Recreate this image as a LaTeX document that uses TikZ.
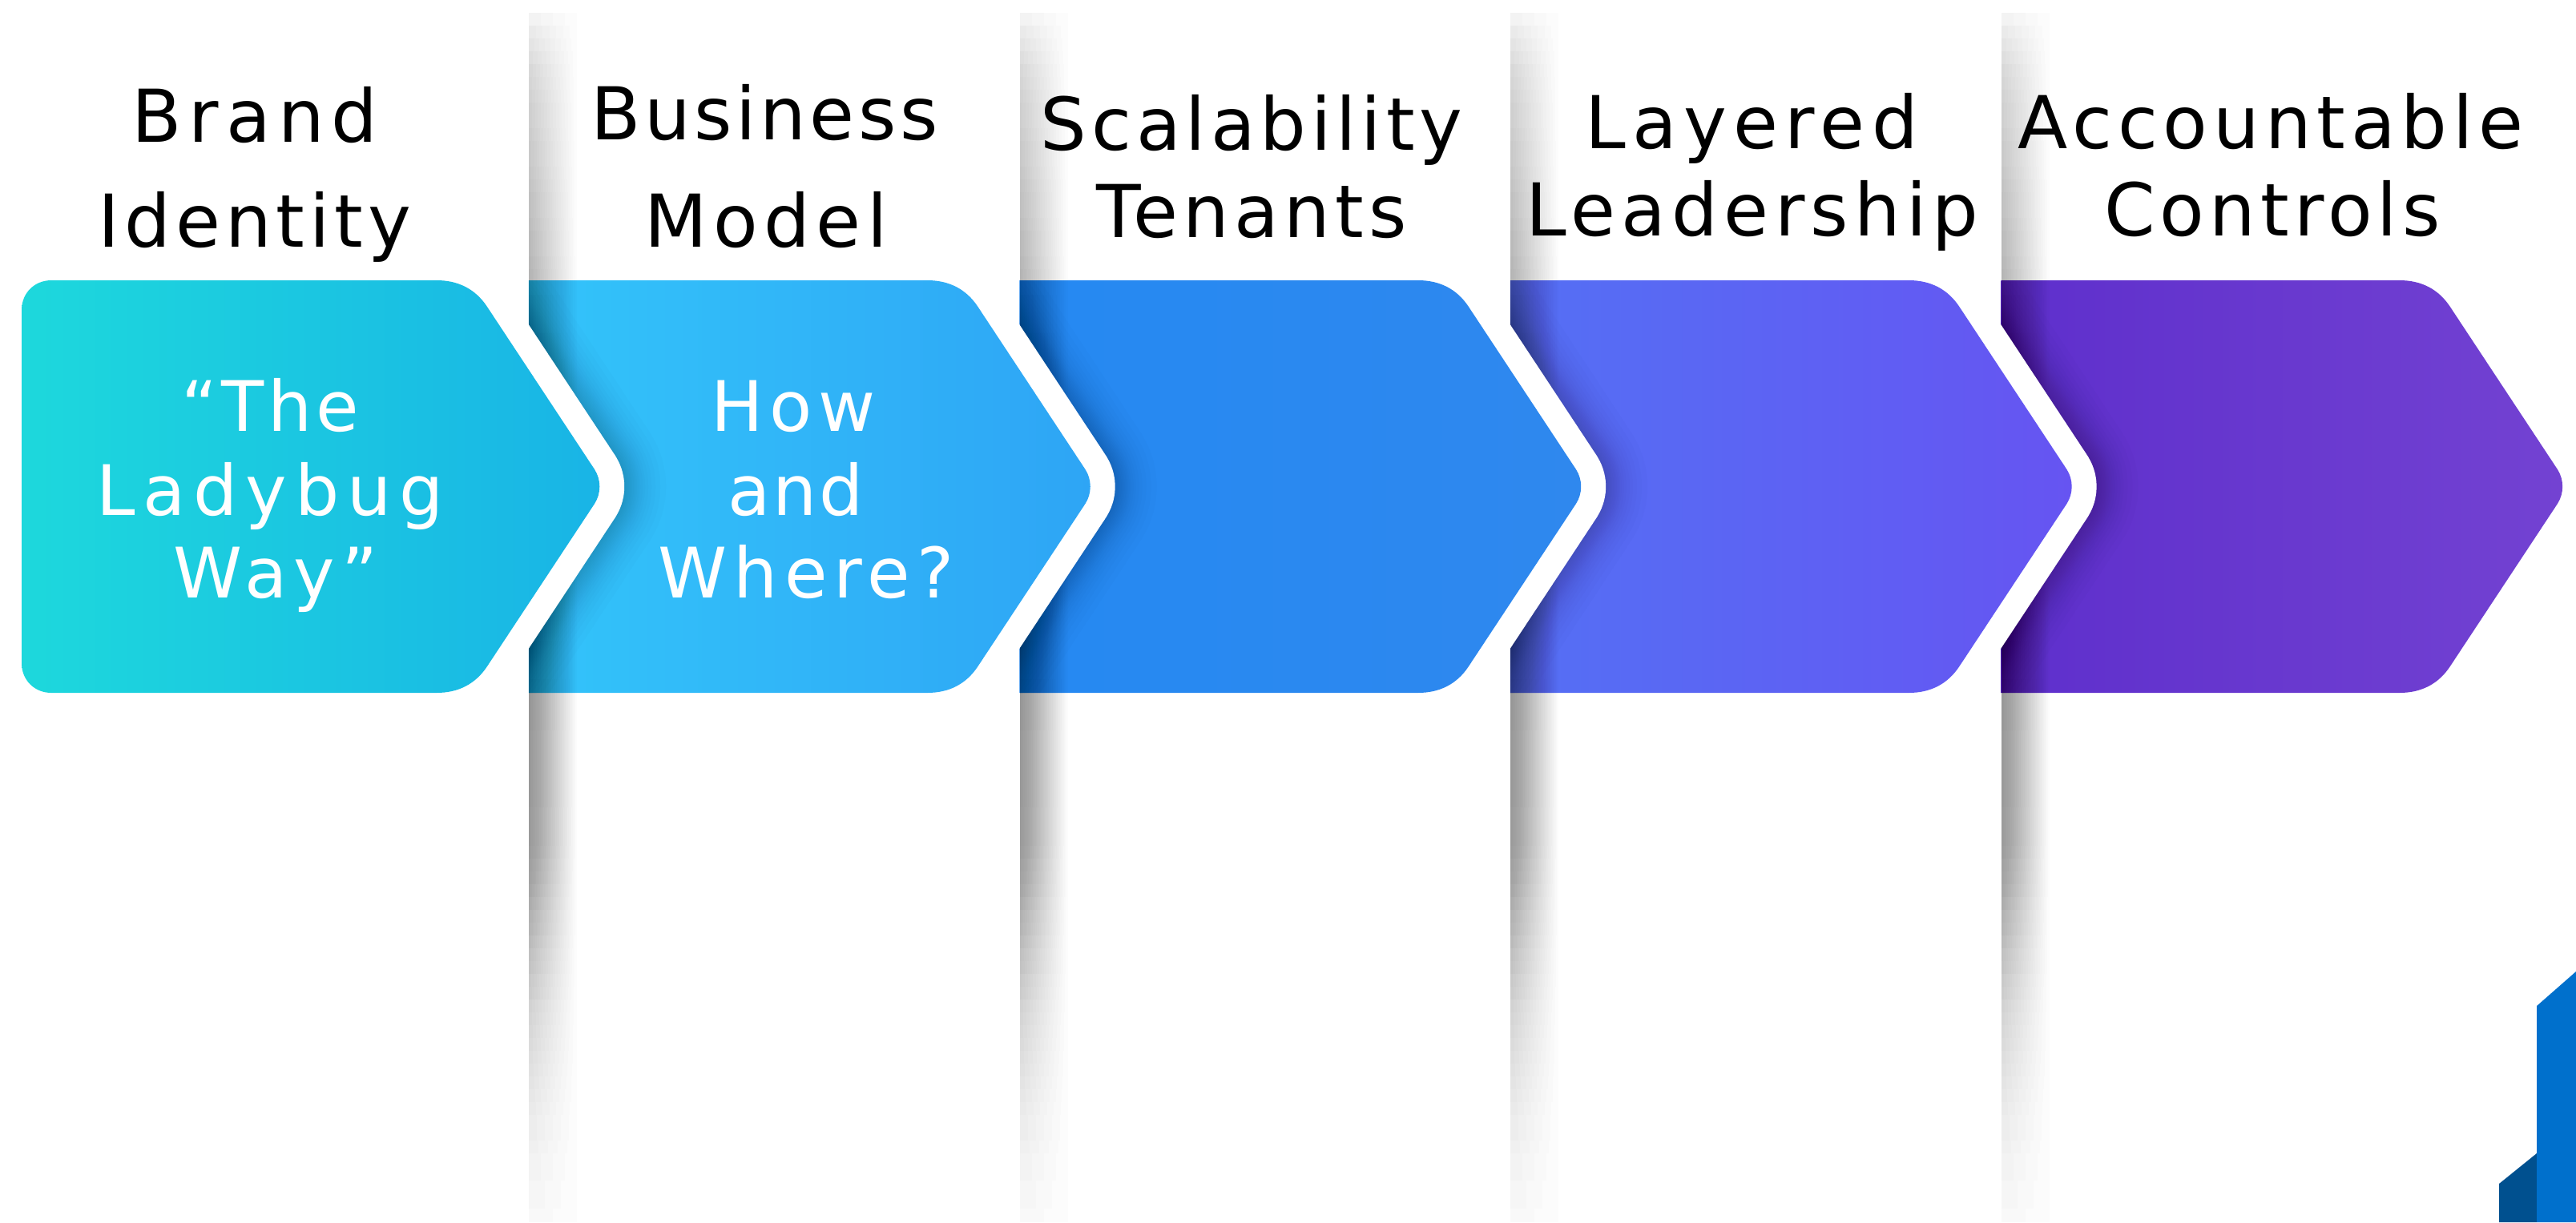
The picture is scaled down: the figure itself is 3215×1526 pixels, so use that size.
\documentclass[tikz,border=0pt]{standalone}
\usepackage{fontspec}
\setmainfont{DejaVu Sans}
\definecolor{cL1}{HTML}{1DD8DC}\definecolor{cR1}{HTML}{19B4E6}
\definecolor{cL2}{HTML}{33C4FA}\definecolor{cR2}{HTML}{2EA5F5}
\definecolor{cL3}{HTML}{2589F2}\definecolor{cR3}{HTML}{2F88EE}
\definecolor{cL4}{HTML}{5470F4}\definecolor{cR4}{HTML}{6654F2}
\definecolor{cL5}{HTML}{5E2FCC}\definecolor{cR5}{HTML}{7342D2}
\definecolor{decoMain}{HTML}{0070CC}
\definecolor{decoDark}{HTML}{00508F}
\def\chevbody{(545,350) .. controls (572,350) and (593.5,361) .. (608,383)
  -- (742,586) .. controls (750.4,599) and (750.4,616) .. (742,629)
  -- (608,832) .. controls (593.5,854) and (572,865) .. (545,865)}
\def\chevron{(47.5,350) -- \chevbody -- (47.5,865) -- cycle}
\def\chevfirst{(64,350) -- \chevbody -- (64,865)
  .. controls (43,865) and (27,849) .. (27,828) -- (27,387)
  .. controls (27,366) and (43,350) .. (64,350) -- cycle}
\tikzset{
 head/.style={font=\fontsize{9.1}{9.1}\selectfont\addfontfeatures{LetterSpace=#1},text=black,anchor=base,inner sep=0pt},
 inner/.style={font=\fontsize{8.7}{8.7}\selectfont\addfontfeatures{LetterSpace=#1},text=white,anchor=base,inner sep=0pt}
}
\begin{document}
\begin{tikzpicture}[x=.1pt,y=-.1pt]
\useasboundingbox (0,0) rectangle (3215,1526);
\fill[white] (0,0) rectangle (3215,1526);
\foreach \k in {5,4,3,2}{
  \pgfmathsetmacro\sh{61.25*(\k-1)}
  \pgfmathsetmacro\lf{612.5*(\k-1)+47.5}
  \pgfmathsetmacro\pv{61.25*(\k-2)}
  \begin{scope}[xshift=\sh pt]
    \shade[left color=cL\k,right color=cR\k] \chevron;
  \end{scope}
  % shadow strip: each row stacks as many 1% layers as its height asks for
  \foreach \ya/\ga/\yb/\gb in {16/1/32/6, 32/6/96/14, 96/14/352/25, 352/25/864/38,
      864/38/1056/36, 1056/36/1184/22, 1184/22/1280/13, 1280/13/1360/8,
      1360/8/1456/4, 1456/4/1526/2}{
    \pgfmathtruncatemacro\nrows{max(1,round((\yb-\ya)/16))}
    \pgfmathsetmacro\rowh{(\yb-\ya)/\nrows}
    \foreach \r in {1,...,\nrows}{
      \pgfmathsetmacro\ytop{\ya+(\r-1)*\rowh}
      \pgfmathsetmacro\ybot{\ya+\r*\rowh}
      \pgfmathtruncatemacro\nlay{max(1,round(\ga+(\gb-\ga)*(\r-.5)/\nrows))}
      \pgfmathsetmacro\dstep{60/\nlay}
      \foreach \i in {1,...,\nlay}{
        \fill[black,opacity=.01] (\lf,\ytop) rectangle (\lf+\i*\dstep,\ybot);
      }
    }
  }
  % shadow around the notch
  \begin{scope}
    \clip (\lf,350) rectangle (\lf+200,865);
    \begin{scope}[xshift=\pv pt]
      \foreach \d in {2,4,6,8,10,12,14,16,18,20,23,26,30,34,39,45,52}{
        \draw[black,opacity=.01,line width=6.2pt+.2*\d pt,line join=round] \chevron;
      }
    \end{scope}
  \end{scope}
  \begin{scope}[xshift=\pv pt]
    \ifnum\k=2
      \draw[white,line width=6.2pt,line join=round] \chevfirst;
    \else
      \draw[white,line width=6.2pt,line join=round] \chevron;
    \fi
  \end{scope}
}
\shade[left color=cL1,right color=cR1] \chevfirst;
\fill[decoDark] (3119,1526) -- (3119,1478) -- (3166,1440) -- (3166,1526) -- cycle;
\fill[decoMain] (3166,1526) -- (3166,1256) -- (3215,1213) -- (3215,1526) -- cycle;
\node[head=9.9] (h1a) at (318,177) {Brand};
\node[head=6.6] (h1b) at (318,308) {Identity};
\node[head=5] (h2a) at (954,174) {Business};
\node[head=8.2] (h2b) at (956,308) {Model};
\node[head=6.5] (h3a) at (1562,187) {Scalability};
\node[head=6.8] (h3b) at (1562,296) {Tenants};
\node[head=9.2] (h4a) at (2186,185) {Layered};
\node[head=7.9] (h4b) at (2187,294) {Leadership};
\node[head=7.5] (h5a) at (2834,185) {Accountable};
\node[head=6.8] (h5b) at (2836,294) {Controls};
\node[inner=5.7] (t1a) at (337,538) {“The};
\node[inner=11.3] (t1b) at (337,643) {Ladybug};
\node[inner=9.5] (t1c) at (344,746) {Way”};
\node[inner=9] (t2a) at (990,538) {How};
\node[inner=3.5] (t2b) at (993,643) {and};
\node[inner=9.3] (t2c) at (1006,746) {Where?};
\end{tikzpicture}
\end{document}
